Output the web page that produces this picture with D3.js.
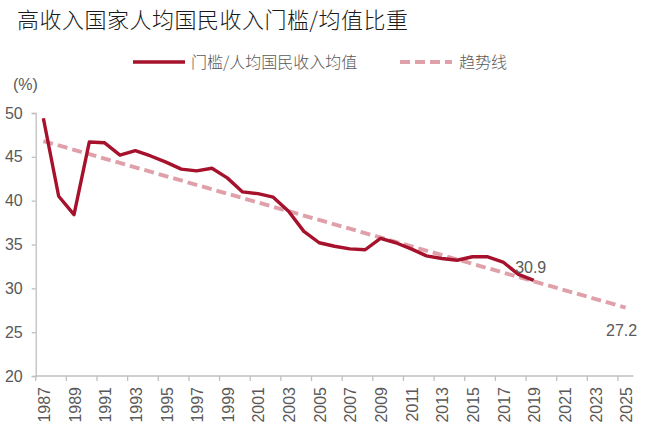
<!DOCTYPE html>
<html>
<head>
<meta charset="utf-8">
<script src="https://cdn.jsdelivr.net/npm/d3@7"></script>
<style>
  body { margin: 0; background: #fff; }
  text { font-family: "Liberation Sans", Arial, sans-serif; }
  .cjk { font-family: "Noto Sans CJK SC", sans-serif; font-weight: 300; }
</style>
</head>
<body>
<script>
// Data
const years      = d3.range(1987, 2026)
const dataYears  = d3.range(1987, 2020)
const ratio      = [49.4, 40.5, 38.4, 46.7, 46.6, 45.2, 45.7, 45.1, 44.4, 43.6,
                    43.4, 43.7, 42.6, 41.0, 40.8, 40.4, 38.8, 36.5, 35.2, 34.8,
                    34.5, 34.4, 35.7, 35.2, 34.5, 33.7, 33.4, 33.2, 33.6, 33.6,
                    33.0, 31.6, 30.9]
const trendYears = [1987, 2025]
const trendVals  = [46.8, 27.8]
const yTicks     = [20, 25, 30, 35, 40, 45, 50]
const xTickYears = d3.range(1987, 2026, 2)
const endLabels  = [{year: 2019, value: 30.9, text: '30.9', ref: 30.9, dx: -3, dy: -13},
                    {year: 2025, value: 27.2, text: '27.2', ref: 27.8, dx: -4, dy: 23}]

// Global variables
var width  = 652
var height = 439
var red    = '#a6112c'
var pink   = '#dfa0aa'
var grey   = '#595959'
var axisC  = '#bfbfbf'

let svg = d3.select('body')
            .append('svg')
            .attr('width', width)
            .attr('height', height)

// Scales
var x = d3.scaleBand()
          .domain(years)
          .range([35.7, 633.3])
          .paddingInner(0)
var y = d3.scaleLinear()
          .domain([20, 50])
          .range([376, 113])
var cx = d => x(d) + x.bandwidth() / 2

// Title
svg.append('text')
   .attr('class', 'cjk')
   .attr('x', 17)
   .attr('y', 28)
   .attr('font-size', '22px')
   .attr('textLength', 391)
   .attr('fill', '#1a1a1a')
   .text('高收入国家人均国民收入门槛/均值比重')

// Legend
let lg = svg.append('g')
lg.append('line')
  .attr('x1', 133).attr('x2', 185).attr('y1', 62).attr('y2', 62)
  .attr('stroke', red).attr('stroke-width', 3.5)
lg.append('text')
  .attr('class', 'cjk')
  .attr('x', 191).attr('y', 62).attr('dy', '0.35em')
  .attr('font-size', '16px').attr('fill', grey)
  .text('门槛/人均国民收入均值')
lg.append('line')
  .attr('x1', 400).attr('x2', 452).attr('y1', 62).attr('y2', 62)
  .attr('stroke', pink).attr('stroke-width', 4)
  .attr('stroke-dasharray', '10,5')
lg.append('text')
  .attr('class', 'cjk')
  .attr('x', 459).attr('y', 62).attr('dy', '0.35em')
  .attr('font-size', '16px').attr('fill', grey)
  .text('趋势线')

// Unit
svg.append('text')
   .attr('x', 13).attr('y', 84).attr('dy', '0.35em')
   .attr('font-size', '16px').attr('fill', grey)
   .text('(%)')

// Y axis
let yAxis = svg.append('g')
               .attr('transform', 'translate(35.7,0)')
               .call(d3.axisLeft(y).tickValues(yTicks).tickSize(4).tickPadding(9))
yAxis.select('.domain').attr('stroke', axisC).attr('stroke-width', 1.3)
yAxis.selectAll('.tick line').attr('stroke', axisC).attr('stroke-width', 1.3)
yAxis.selectAll('.tick text')
     .attr('font-size', '16px').attr('fill', grey)
     .attr('font-family', '"Liberation Sans", Arial, sans-serif')

// X axis
let xAxis = svg.append('g')
               .attr('transform', 'translate(0,' + y(20) + ')')
xAxis.append('line')
     .attr('x1', x.range()[0]).attr('x2', x.range()[1])
     .attr('stroke', axisC).attr('stroke-width', 1.3)
xAxis.selectAll('.xt')
     .data(xTickYears)
     .enter()
     .append('line')
     .attr('x1', d => x(d)).attr('x2', d => x(d))
     .attr('y1', 0).attr('y2', 5)
     .attr('stroke', axisC).attr('stroke-width', 1.3)
xAxis.selectAll('.xl')
     .data(xTickYears)
     .enter()
     .append('text')
     .attr('transform', d => 'translate(' + (cx(d) + 1) + ',11) rotate(-90)')
     .attr('text-anchor', 'end')
     .attr('dy', '0.35em')
     .attr('font-size', '16px')
     .attr('fill', grey)
     .text(d => d)

// Trend line
svg.append('path')
   .datum(trendYears.map((d, i) => [d, trendVals[i]]))
   .attr('d', d3.line().x(d => cx(d[0])).y(d => y(d[1])))
   .attr('fill', 'none')
   .attr('stroke', pink)
   .attr('stroke-width', 4)
   .attr('stroke-dasharray', '10,5')

// Main line
svg.append('path')
   .datum(dataYears.map((d, i) => [d, ratio[i]]))
   .attr('d', d3.line().x(d => cx(d[0])).y(d => y(d[1])))
   .attr('fill', 'none')
   .attr('stroke', red)
   .attr('stroke-width', 3.4)
   .attr('stroke-linejoin', 'round')

// Value labels
svg.selectAll('.vl')
   .data(endLabels)
   .enter()
   .append('text')
   .attr('x', d => cx(d.year) + d.dx)
   .attr('y', d => y(d.ref) + d.dy)
   .attr('dy', '0.35em')
   .attr('text-anchor', 'middle')
   .attr('font-size', '16px')
   .attr('fill', grey)
   .text(d => d.text)
</script>
</body>
</html>
